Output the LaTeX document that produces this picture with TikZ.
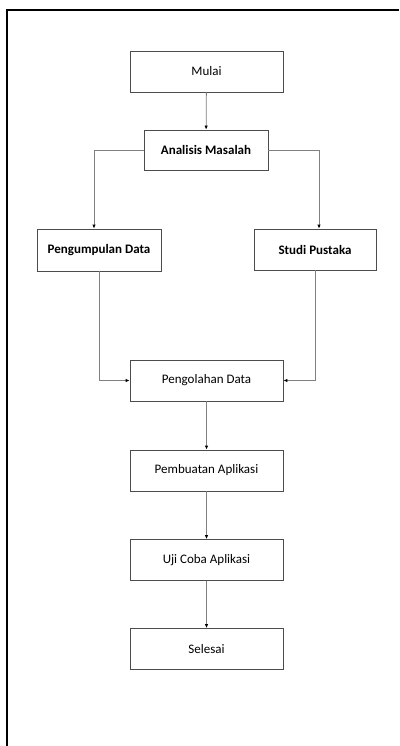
\documentclass[tikz,border=0pt]{standalone}
\usepackage{fontspec}
\setmainfont{Carlito}
\usetikzlibrary{arrows.meta}

\begin{document}
\begin{tikzpicture}[x=1pt, y=-1pt]
   \tikzstyle{every node}=[font=\fontsize{13}{15}\selectfont, inner sep=0pt]
   \tikzstyle{langkah}=[draw=black!70, line width=0.8pt, minimum width=153pt, minimum height=41pt]
   \tikzstyle{cabang}=[langkah, minimum width=124pt, font=\fontsize{13}{15}\selectfont\bfseries]
   \tikzstyle{panah}=[draw=black!50, line width=0.8pt, -{Latex[black, length=4pt, width=3.5pt]}]

\useasboundingbox (0,0) rectangle (399,746);
\draw[line width=2pt] (7,746) -- (7,10) -- (399,10);

\node[langkah] (mulai) at (206.5,71.5) {Mulai};
\node[cabang, minimum height=40pt] (analisis) at (206,150) {Analisis Masalah};
\node[cabang, minimum height=42pt] (kumpul) at (99,250) {Pengumpulan Data};
\node[cabang, minimum width=122pt] (studi) at (315,249.5) {Studi Pustaka};
\node[langkah] (olah) at (206.5,380.5) {Pengolahan Data};
\node[langkah] (buat) at (206.5,470.5) {Pembuatan Aplikasi};
\node[langkah] (uji) at (206.5,560) {Uji Coba Aplikasi};
\node[langkah] (selesai) at (206.5,649) {Selesai};

\draw[panah] (mulai) -- (analisis);
\draw[panah] (analisis.west) -| ([xshift=-5pt]kumpul.north);
\draw[panah] (analisis.east) -| ([xshift=4pt]studi.north);
\draw[panah] (kumpul.south) |- (olah.west);
\draw[panah] (studi.south) |- (olah.east);
\draw[panah] (olah) -- (buat);
\draw[panah] (buat) -- (uji);
\draw[panah] (uji) -- (selesai);

\end{tikzpicture}
\end{document}
